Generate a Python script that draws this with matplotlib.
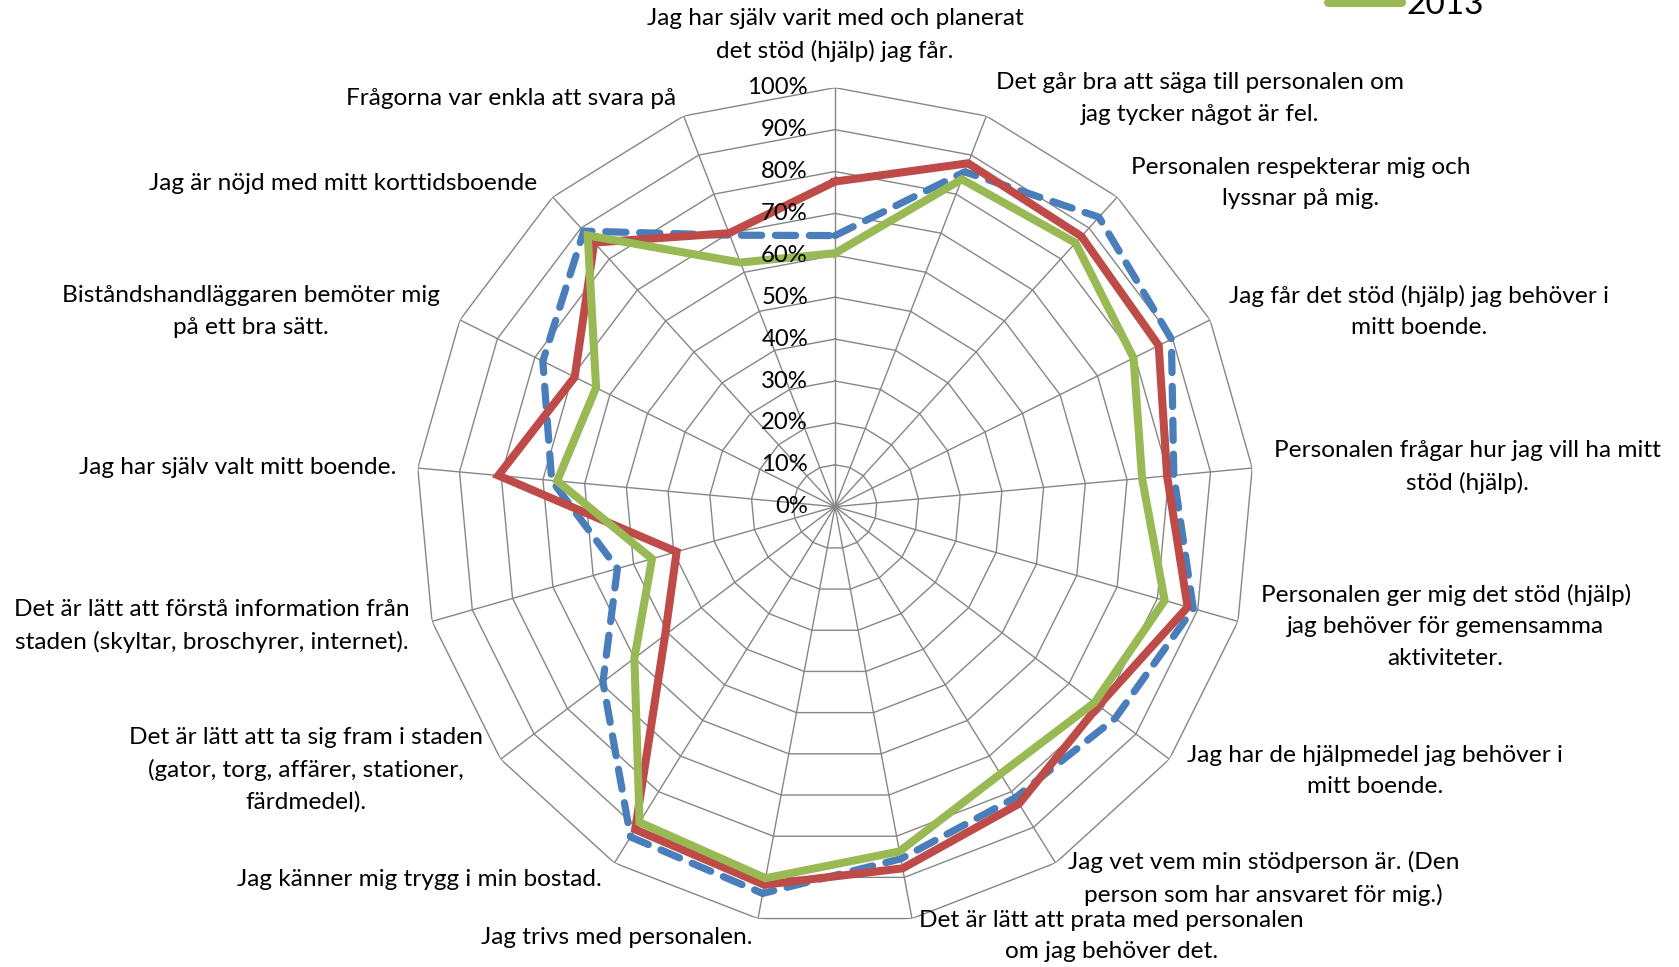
import numpy as np
import matplotlib
matplotlib.use("Agg")
import matplotlib.pyplot as plt
from matplotlib.transforms import offset_copy
from matplotlib.lines import Line2D

# ---------------- data ----------------
categories = [
    "Jag har själv varit med och planerat\ndet stöd (hjälp) jag får.",
    "Det går bra att säga till personalen om\njag tycker något är fel.",
    "Personalen respekterar mig och\nlyssnar på mig.",
    "Jag får det stöd (hjälp) jag behöver i\nmitt boende.",
    "Personalen frågar hur jag vill ha mitt\nstöd (hjälp).",
    "Personalen ger mig det stöd (hjälp)\njag behöver för gemensamma\naktiviteter.",
    "Jag har de hjälpmedel jag behöver i\nmitt boende.",
    "Jag vet vem min stödperson är. (Den\nperson som har ansvaret för mig.)",
    "Det är lätt att prata med personalen\nom jag behöver det.",
    "Jag trivs med personalen.",
    "Jag känner mig trygg i min bostad.",
    "Det är lätt att ta sig fram i staden\n(gator, torg, affärer, stationer,\nfärdmedel).",
    "Det är lätt att förstå information från\nstaden (skyltar, broschyrer, internet).",
    "Jag har själv valt mitt boende.",
    "Biståndshandläggaren bemöter mig\npå ett bra sätt.",
    "Jag är nöjd med mitt korttidsboende",
    "Frågorna var enkla att svara på",
]
series_names = ["2011", "2012", "2013"]
values_2011 = [64.7, 85.7, 93.5, 89.7, 81.2, 88.9, 83.8, 81.7, 85.5, 93.9, 92.7, 69.4, 54.0, 67.9, 77.9, 89.0, 69.5]
values_2012 = [77.6, 87.9, 87.3, 86.3, 79.6, 87.5, 78.8, 83.4, 87.8, 91.8, 90.6, 50.8, 39.3, 80.7, 69.4, 85.3, 70.0]
values_2013 = [60.5, 83.8, 85.2, 79.6, 73.6, 81.8, 77.6, 75.0, 83.7, 90.2, 88.6, 60.0, 45.4, 66.6, 63.7, 87.6, 62.5]
tick_values = [0, 10, 20, 30, 40, 50, 60, 70, 80, 90, 100]
tick_labels = [f"{v}%" for v in tick_values]

# ---------------- style ----------------
W, H = 1679, 967
DPI = 100
plt.rcParams["font.family"] = ["Lato", "DejaVu Sans"]
BLUE = "#4A7EBB"
RED = "#BE4B48"
GREEN = "#98B954"
GRID = "#868686"

fig = plt.figure(figsize=(W / DPI, H / DPI), dpi=DPI)
cx, cy, R = 835, 506.7, 419
ax = fig.add_axes([(cx - R) / W, (H - cy - R) / H, 2 * R / W, 2 * R / H], projection="polar")
ax.set_theta_zero_location("N")
ax.set_theta_direction(-1)
ax.set_ylim(0, 1)
ax.grid(False)
ax.set_xticks([])
ax.set_yticks([])
ax.spines["polar"].set_visible(False)
ax.patch.set_alpha(0)

n = len(categories)
theta = np.arange(n) * 2 * np.pi / n
theta_closed = np.append(theta, theta[0])

# polygon grid
for v in tick_values[1:]:
    ax.plot(theta_closed, np.full(n + 1, v / 100), color=GRID, lw=1.0, zorder=1)
for t in theta:
    ax.plot([t, t], [0, 1], color=GRID, lw=1.0, zorder=1)

# series
def closed(vals):
    a = np.asarray(vals) / 100
    return np.append(a, a[0])

ax.plot(theta_closed, closed(values_2011), color=BLUE, lw=5.2, ls=(0, (2.8, 1.9)),
        dash_capstyle="round", solid_joinstyle="round", zorder=3)
ax.plot(theta_closed, closed(values_2012), color=RED, lw=5.8, solid_joinstyle="miter", zorder=4)
ax.plot(theta_closed, closed(values_2013), color=GREEN, lw=5.8, solid_joinstyle="miter", zorder=5)

# radial tick labels on the top spoke
tr = offset_copy(ax.transData, fig=fig, x=-27, y=0, units="dots")
for v, lab in zip(tick_values, tick_labels):
    ax.text(0, v / 100, lab, transform=tr, ha="right", va="center", fontsize=17.2, color="black", zorder=6)

# category labels (centres in pixels)
label_centres = [
    (835, 35), (1200, 98.5), (1301, 183), (1419, 311.6), (1467, 467),
    (1445.6, 626.4), (1375, 771), (1263.5, 878), (1111.5, 936),
    (616.8, 937), (419.7, 879), (306, 770), (212, 626.4),
    (237.7, 467), (250.6, 311.6), (342.7, 183), (510.8, 98.5),
]
for lab, (x, y) in zip(categories, label_centres):
    fig.text(x / W, 1 - y / H, lab, ha="center", va="center", multialignment="center",
             fontsize=17.6, linespacing=1.6, color="black")

# legend (only the last entry visible at the top edge)
handles = [
    Line2D([], [], color=BLUE, lw=6.5, ls=(0, (2.6, 1.9)), dash_capstyle="round"),
    Line2D([], [], color=RED, lw=6.5, solid_capstyle="round"),
    Line2D([], [], color=GREEN, lw=6.5, solid_capstyle="round"),
]
fig.legend(handles, series_names, loc="lower left", bbox_to_anchor=(1328 / W, 1 - 20 / H),
           bbox_transform=fig.transFigure, frameon=False, fontsize=24, borderpad=0,
           borderaxespad=0, handlelength=2.2, handletextpad=0.15, labelspacing=0.3)

fig.savefig("out.png", dpi=DPI)
